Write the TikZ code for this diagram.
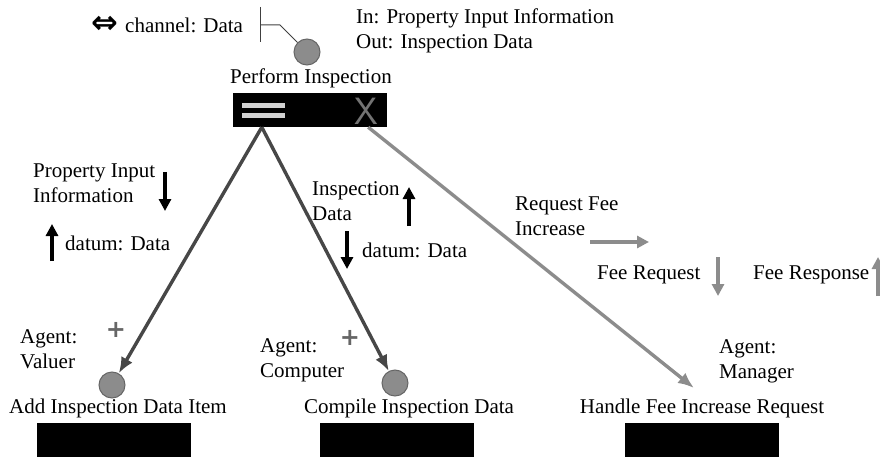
\documentclass[tikz,border=0pt]{standalone}
\usepackage{fontspec}
\setmainfont{Liberation Serif}
\newfontfamily\symfont{DejaVu Sans}
\usetikzlibrary{arrows.meta}

\begin{document}
\begin{tikzpicture}[x=1pt, y=-1pt,
			lbl/.style  = {font=\fontsize{21}{25}\selectfont, inner sep=0pt, align=left},
			proc/.style = {circle, draw=black!60, fill=black!45, line width=1pt, minimum size=26pt, inner sep=0pt},
			bar/.style  = {fill=black, minimum width=154pt, minimum height=34pt, inner sep=0pt},
			link/.style = {draw=black!72, line width=3.4pt, -{Latex[length=16pt,width=13pt]}},
			flow/.style = {line width=3.4pt, -{Triangle[length=12pt,width=12pt]}},
			gflow/.style = {flow, draw=black!45, color=black!45},
			plus/.style = {font=\symfont\bfseries\fontsize{24}{24}\selectfont, text=black!60, inner sep=0pt}]
			
			\useasboundingbox (0,0) rectangle (880,457);
			
			% top task
			\node[proc] (c0) at (307,52) {};
			\node[lbl] (p0) at (311,78) {Perform Inspection};
			\node[bar] (b0) at (310,110) {};
			\fill[black!18] (242,103) rectangle (285,108);
			\fill[black!18] (242,113) rectangle (285,118);
			\node[font=\sffamily\fontsize{38}{38}\selectfont, text=black!55, inner sep=0pt] (x0) at (366,111) {X};
			
			% channel marker and in/out
			\node[font=\symfont\bfseries\fontsize{32}{32}\selectfont, inner sep=0pt] (dbl) at (105,25) {⇔};
			\node[lbl, anchor=west] (chan) at (125,25) {channel: Data};
			\node[lbl, anchor=west] (io) at (356,31) {In: Property Input Information\\Out: Inspection Data};
			\coordinate (m1) at (260,7);
			\coordinate (m2) at (260,42);
			\coordinate (m3) at (260,25);
			\coordinate (m4) at (280,25);
			\draw[black!75, line width=1pt] (m1) -- (m2);
			\draw[black!75, line width=1pt] (m3) -- (m4) -- (c0);
			
			% bottom tasks
			\foreach \i/\x/\t/\tx in {1/113.5/Add Inspection Data Item/118,
				2/397/Compile Inspection Data/409,
				3/701.5/Handle Fee Increase Request/702}
			{
				\node[bar] (b\i) at (\x,440) {};
				\node[lbl] (t\i) at (\tx,408) {\t};
			}
			\node[proc] (c1) at (112,385) {};
			\node[proc] (c2) at (395,383) {};
			\coordinate (e3) at (694,388);
			
			% links from the top task
			\coordinate (fork) at ([xshift=29pt]b0.south west);
			\coordinate (fork2) at ([xshift=-19pt]b0.south east);
			\draw[link] (fork) -- (c1);
			\draw[link] (fork) -- (c2);
			\draw[link, draw=black!45] (fork2) -- (e3);
			
			% agents
			\node[lbl, anchor=west] (a1) at (20,349) {Agent:\\Valuer};
			\node[plus] (pl1) at (116,330) {+};
			\node[lbl, anchor=west] (a2) at (260,360) {Agent:\\Computer};
			\node[plus] (pl2) at (350,338) {+};
			\node[lbl, anchor=west] (a3) at (719,361) {Agent:\\Manager};
			
			% data flows
			\node[lbl, anchor=west] (f1) at (33,183) {Property Input\\Information};
			\draw[flow] (165,172) -- (165,211);
			\draw[flow] (52,261) -- (52,224);
			\node[lbl, anchor=west] (d1) at (65,243) {datum: Data};
			
			\node[lbl, anchor=west] (f2) at (312,201) {Inspection\\Data};
			\draw[flow] (409,226) -- (409,187);
			\draw[flow] (347,231) -- (347,269);
			\node[lbl, anchor=west] (d2) at (362,250) {datum: Data};
			
			\node[lbl, anchor=west] (f3) at (515,216) {Request Fee\\Increase};
			\draw[gflow] (590,242) -- (649,242);
			\node[lbl, anchor=west] (f4) at (597,275) {Fee Request};
			\draw[gflow] (718,257) -- (718,296);
			\node[lbl, anchor=west] (f5) at (753,275) {Fee Response};
			\draw[gflow] (878,296) -- (878,257);
		\end{tikzpicture}
\end{document}
